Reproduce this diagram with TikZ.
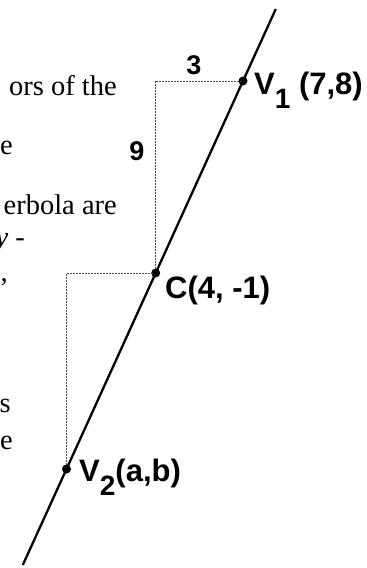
\documentclass[tikz,border=0pt]{standalone}
\usepackage{fontspec}
\setmainfont{Liberation Serif}
\setsansfont{Liberation Sans}
\tikzset{
  mainline/.style={line width=2.3pt, black},
  guide/.style={line width=0.5pt, densely dotted, black!70},
  pt/.style={circle, fill=black, inner sep=0pt, minimum size=9pt},
  lbl/.style={font=\sffamily\bfseries\fontsize{31}{33}\selectfont, inner sep=0pt, anchor=base west},
  num/.style={font=\sffamily\bfseries\fontsize{27}{29}\selectfont, inner sep=0pt, anchor=base},
  frag/.style={font=\fontsize{28.5}{30}\selectfont, inner sep=0pt, anchor=base east}
}
\newcommand{\subs}[1]{{\fontsize{28}{28}\selectfont\raisebox{-14pt}{#1}}}
\begin{document}
\begin{tikzpicture}[x=1pt, y=-1pt]
\useasboundingbox (0,0) rectangle (367,568);
\clip (0,0) rectangle (367,568);
% text fragments (line ends cut by the left edge)
\node[frag] (f1) at (117,95) {ors of the};
\node[frag] (f2) at (13,154) {e};
\node[frag] (f3) at (117,214) {erbola are};
\node[frag] (f4) at (25,246) {\textit{y} -};
\node[frag] (f5) at (8,281) {,};
\node[frag] (f6) at (11,412) {s};
\node[frag] (f7) at (13,449) {e};
% points
\coordinate (top) at (275.8,9);
\coordinate (bot) at (22.8,565);
\node[pt] (V1) at (243,81) {};
\node[pt] (C) at (155.7,273) {};
\node[pt] (V2) at (66.5,469) {};
\coordinate (k1) at (C |- V1);
\coordinate (k2) at (V2 |- C);
% guides
\draw[guide] (V1.center) -- (k1) -- (C.center);
\draw[guide] (C.center) -- (k2) -- (V2.center);
% main line
\draw[mainline] (top) -- (V1.center) -- (C.center) -- (V2.center) -- (bot);
% labels
\node[num] (n3) at (194,74) {3};
\node[num] (n9) at (137,160) {9};
\node[lbl] (lV1) at (254,94) {V\subs{1} (7,8)};
\node[lbl] (lC) at (165,298) {C(4, -1)};
\node[lbl] (lV2) at (79,481) {V\subs{2}(a,b)};
\end{tikzpicture}
\end{document}
